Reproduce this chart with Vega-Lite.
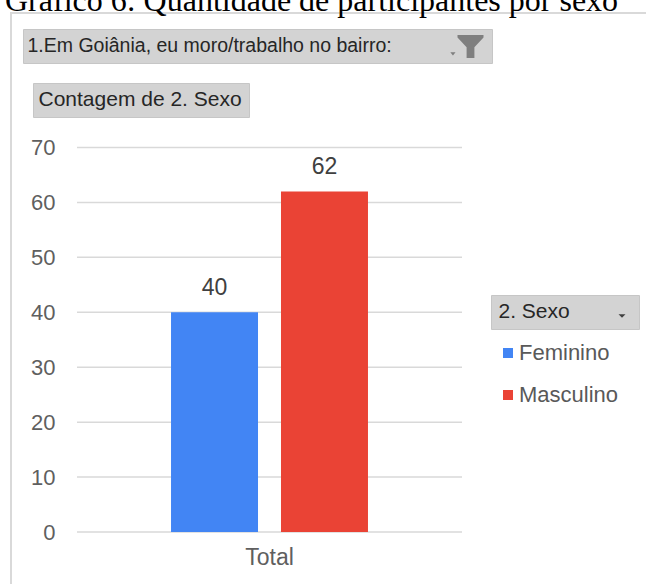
{
  "$schema": "https://vega.github.io/schema/vega-lite/v6.json",
  "width": 645,
  "height": 581,
  "autosize": {"type": "none"},
  "padding": {"left": 11, "top": 13, "right": -10, "bottom": -10},
  "background": "white",
  "title": {
    "text": "Gráfico 6: Quantidade de participantes por sexo",
    "anchor": "start",
    "frame": "group",
    "font": "Liberation Serif",
    "fontSize": 32,
    "fontWeight": "normal",
    "color": "#000000",
    "baseline": "alphabetic",
    "offset": -30,
    "dx": -6
  },
  "config": {
    "view": {"stroke": "#d9d9d9", "strokeWidth": 2},
    "font": "Liberation Sans",
    "axisY": {
      "domain": false,
      "ticks": false,
      "tickSize": 0,
      "grid": false,
      "tickCount": 7,
      "labelPadding": -44,
      "labelFont": "Liberation Sans",
      "labelFontSize": 22,
      "labelColor": "#5f5f5f",
      "title": null
    },
    "axisX": {
      "domain": false,
      "ticks": false,
      "tickSize": 0,
      "grid": false,
      "offset": -62,
      "labelPadding": 14,
      "labelAngle": 0,
      "labelFont": "Liberation Sans",
      "labelFontSize": 23,
      "labelColor": "#5f5f5f",
      "title": null
    }
  },
  "datasets": {
    "sexo": [
      {"grupo": "Total", "Sexo": "Feminino", "Contagem": 40},
      {"grupo": "Total", "Sexo": "Masculino", "Contagem": 62}
    ],
    "grade": [
      {"valor": 0}, {"valor": 10}, {"valor": 20}, {"valor": 30},
      {"valor": 40}, {"valor": 50}, {"valor": 60}, {"valor": 70}
    ]
  },
  "resolve": {
    "scale": {"shape": "independent"},
    "legend": {"shape": "independent"}
  },
  "layer": [
    {
      "data": {"name": "grade"},
      "mark": {"type": "bar", "fillOpacity": 0, "stroke": "#d9d9d9", "strokeWidth": 1.5},
      "encoding": {
        "x": {"datum": "Total", "type": "nominal", "scale": {"range": [66, 451], "paddingInner": 0, "paddingOuter": 0}, "title": null},
        "y": {"field": "valor", "type": "quantitative", "scale": {"domain": [0, 70], "range": [519, 134.5], "nice": false, "zero": false}, "title": null},
        "y2": {"field": "valor"}
      }
    },
    {
      "data": {"name": "sexo"},
      "mark": {"type": "bar"},
      "encoding": {
        "x": {"field": "grupo", "type": "nominal", "title": null},
        "xOffset": {"field": "Sexo", "type": "nominal", "scale": {"paddingInner": 0.209, "paddingOuter": 0.855}},
        "y": {"field": "Contagem", "type": "quantitative", "title": null},
        "color": {
          "field": "Sexo",
          "type": "nominal",
          "scale": {"domain": ["Feminino", "Masculino"], "range": ["#4285f4", "#ea4335"]},
          "legend": {
            "title": null,
            "orient": "none",
            "legendX": 486,
            "legendY": 329,
            "symbolType": "square",
            "symbolSize": 100,
            "symbolStrokeWidth": 0,
            "labelFont": "Liberation Sans",
            "labelFontSize": 22,
            "labelColor": "#595959",
            "labelOffset": 0,
            "rowPadding": 20,
            "padding": 0
          }
        }
      }
    },
    {
      "data": {"name": "sexo"},
      "mark": {"type": "text", "dy": -17, "baseline": "alphabetic", "font": "Liberation Sans", "fontSize": 23, "color": "#404040"},
      "encoding": {
        "x": {"field": "grupo", "type": "nominal", "title": null},
        "xOffset": {"field": "Sexo", "type": "nominal"},
        "y": {"field": "Contagem", "type": "quantitative", "title": null},
        "text": {"field": "Contagem", "type": "quantitative"}
      }
    },
    {
      "data": {"name": "sexo"},
      "mark": {"type": "point", "filled": true, "opacity": 0, "color": "#7f7f7f"},
      "encoding": {
        "x": {"datum": "Total", "type": "nominal"},
        "y": {"datum": 0, "type": "quantitative"},
        "shape": {
          "datum": "filtro",
          "scale": {"range": ["M-1,-0.88L1,-0.88L1,-0.7L0.3,0.05L0.3,0.88L-0.3,0.88L-0.3,0.05L-1,-0.7ZM-1.55,0.45L-1.15,0.45L-1.35,0.7Z"]},
          "legend": {
            "title": "1.Em Goiânia, eu moro/trabalho no bairro:",
            "orient": "none",
            "legendX": 12,
            "legendY": 16,
            "titleOrient": "left",
            "titleAngle": 0,
            "titleBaseline": "middle",
            "titleFont": "Liberation Sans",
            "titleFontSize": 19.5,
            "titleFontWeight": "normal",
            "titleColor": "#262626",
            "titleLimit": 600,
            "titlePadding": 65,
            "symbolSize": 676,
            "symbolOpacity": 1,
            "symbolFillColor": "#7f7f7f",
            "symbolStrokeWidth": 0,
            "labelExpr": "''",
            "labelOffset": 4,
            "fillColor": "#d3d3d3",
            "strokeColor": "#c6c6c6",
            "padding": 4.5
          }
        }
      }
    },
    {
      "data": {"name": "sexo"},
      "mark": {"type": "point", "filled": true, "opacity": 0, "color": "#7f7f7f"},
      "encoding": {
        "x": {"datum": "Total", "type": "nominal"},
        "y": {"datum": 0, "type": "quantitative"},
        "shape": {
          "datum": "Contagem de 2. Sexo",
          "legend": {
            "title": null,
            "orient": "none",
            "legendX": 22,
            "legendY": 70,
            "symbolSize": 0,
            "symbolOpacity": 0,
            "labelFont": "Liberation Sans",
            "labelFontSize": 21,
            "labelColor": "#262626",
            "labelLimit": 600,
            "labelOffset": -22,
            "fillColor": "#d3d3d3",
            "strokeColor": "#c6c6c6",
            "padding": 6.5
          }
        }
      }
    },
    {
      "data": {"name": "sexo"},
      "mark": {"type": "point", "filled": true, "opacity": 0, "color": "#404040"},
      "encoding": {
        "x": {"datum": "Total", "type": "nominal"},
        "y": {"datum": 0, "type": "quantitative"},
        "shape": {
          "datum": "cabecalho",
          "scale": {"range": ["M-0.26,-0.13L0.26,-0.13L0,0.13Z"]},
          "legend": {
            "title": "2. Sexo",
            "orient": "none",
            "legendX": 480,
            "legendY": 282,
            "titleOrient": "left",
            "titleAngle": 0,
            "titleBaseline": "middle",
            "titleFont": "Liberation Sans",
            "titleFontSize": 21,
            "titleFontWeight": "normal",
            "titleColor": "#262626",
            "titlePadding": 38,
            "symbolSize": 729,
            "symbolOpacity": 1,
            "symbolFillColor": "#404040",
            "symbolStrokeWidth": 0,
            "labelExpr": "''",
            "labelOffset": -4,
            "fillColor": "#d3d3d3",
            "strokeColor": "#c6c6c6",
            "padding": 7.5
          }
        }
      }
    }
  ]
}
